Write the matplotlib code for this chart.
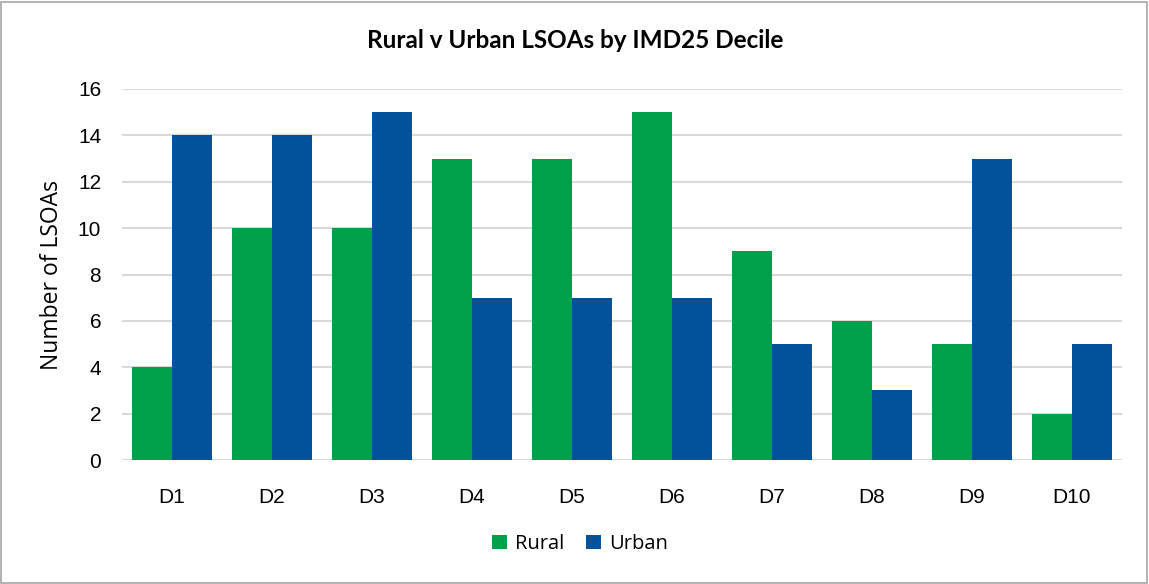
import matplotlib.pyplot as plt
import numpy as np
from matplotlib.patches import Rectangle

categories = ["D1", "D2", "D3", "D4", "D5", "D6", "D7", "D8", "D9", "D10"]
rural = [4, 10, 10, 13, 13, 15, 9, 6, 5, 2]
urban = [14, 14, 15, 7, 7, 7, 5, 3, 13, 5]
yticks = [0, 2, 4, 6, 8, 10, 12, 14, 16]

GREEN = "#00A14B"
BLUE = "#00529B"

W, H = 1149, 584
fig = plt.figure(figsize=(W / 100, H / 100), dpi=100)
ax = fig.add_axes([122 / W, 1 - 460 / H, 1000 / W, 371 / H])

x = np.arange(len(categories))
bw = 0.4
ax.bar(x - bw / 2, rural, bw, color=GREEN, label="Rural", zorder=3)
ax.bar(x + bw / 2, urban, bw, color=BLUE, label="Urban", zorder=3)

ax.set_xlim(-0.5, len(categories) - 0.5)
ax.set_ylim(0, 16)
ax.set_yticks(yticks)
ax.set_xticks(x)
ax.set_xticklabels(categories)
ax.grid(axis="y", color="#D9D9D9", linewidth=1.5, zorder=0)
for s in ax.spines.values():
    s.set_visible(False)
ax.tick_params(axis="both", length=0, labelsize=15, colors="#000000")
for lab in ax.get_xticklabels() + ax.get_yticklabels():
    lab.set_family("Liberation Sans")
ax.tick_params(axis="x", pad=20)
ax.tick_params(axis="y", pad=15)
ax.set_ylabel("Number of LSOAs", fontsize=16.5, family="Open Sans", labelpad=10)

fig.text(575 / W, 1 - 41 / H, "Rural v Urban LSOAs by IMD25 Decile", ha="center", va="center",
         fontsize=17.5, fontweight="bold", family="Lato")

leg = fig.legend(loc="center", bbox_to_anchor=(580 / W, 1 - 544 / H), ncol=2, frameon=False,
                 prop={"family": "Open Sans", "size": 14.5}, handlelength=0.75, handleheight=0.75,
                 handletextpad=0.4, columnspacing=1.1)

fig.patches.append(Rectangle((1 / W, 1 / H), 1 - 3 / W, 1 - 3 / H, transform=fig.transFigure,
                             fill=False, edgecolor="#A6A6A6", linewidth=1.2))

fig.savefig("out.png", dpi=100)
